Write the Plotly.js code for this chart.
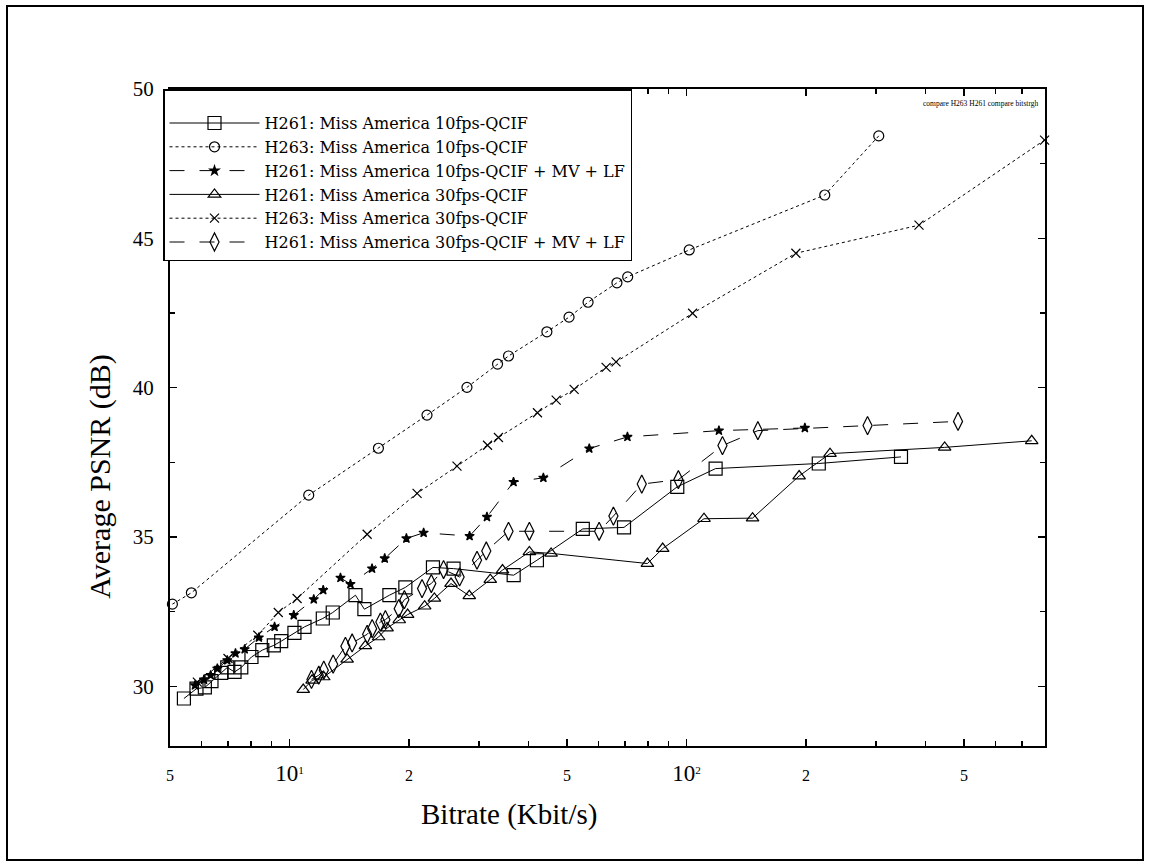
<!DOCTYPE html>
<html>
<head>
<meta charset="utf-8">
<script src="https://cdn.plot.ly/plotly-3.0.1.min.js"></script>
<style>
  html, body { margin: 0; padding: 0; background: #fff; }
  #wrap { position: relative; width: 1151px; height: 866px; }
  #chart { position: absolute; left: 0; top: 0; width: 1151px; height: 866px; }
  #frame { position: absolute; left: 6px; top: 5px; width: 1134px; height: 852px; border: 2px solid #000; pointer-events: none; }
</style>
</head>
<body>
<div id="wrap">
  <div id="chart"></div>
  <div id="frame"></div>
</div>
<script>
// ---- data ----
const seriesNames = [
  "H261: Miss America 10fps-QCIF",
  "H263: Miss America 10fps-QCIF",
  "H261: Miss America 10fps-QCIF + MV + LF",
  "H261: Miss America 30fps-QCIF",
  "H263: Miss America 30fps-QCIF",
  "H261: Miss America 30fps-QCIF + MV + LF"
];

const h261_10_x = [5.42, 5.83, 6.12, 6.36, 6.73, 6.97, 7.27, 7.56, 8.02, 8.54, 9.13, 9.53, 10.29, 10.91, 12.13, 12.85, 14.66, 15.44, 17.85, 19.58, 22.98, 25.9, 36.7, 42.0, 54.8, 69.6, 94.8, 118.4, 215.4, 347];
const h261_10_y = [29.59, 29.92, 29.96, 30.17, 30.45, 30.63, 30.48, 30.63, 30.98, 31.21, 31.37, 31.51, 31.79, 31.99, 32.27, 32.47, 33.05, 32.58, 33.05, 33.31, 33.98, 33.94, 33.72, 34.22, 35.27, 35.32, 36.68, 37.29, 37.46, 37.68];

const h263_10_x = [5.07, 5.66, 11.18, 16.75, 22.2, 27.99, 33.42, 35.62, 44.5, 50.6, 56.5, 66.8, 71.1, 101.6, 223, 305];
const h263_10_y = [32.75, 33.13, 36.40, 37.97, 39.08, 40.01, 40.79, 41.06, 41.87, 42.36, 42.86, 43.51, 43.71, 44.61, 46.45, 48.43];

const h261mv_10_x = [5.78, 6.09, 6.33, 6.58, 6.97, 7.31, 7.71, 8.37, 9.17, 10.25, 11.51, 12.16, 13.44, 14.24, 16.14, 17.37, 19.7, 21.77, 28.42, 31.43, 36.67, 43.6, 56.9, 71.0, 120.7, 198.7];
const h261mv_10_y = [30.03, 30.22, 30.37, 30.59, 30.87, 31.10, 31.24, 31.63, 31.99, 32.38, 32.91, 33.22, 33.63, 33.42, 33.94, 34.28, 34.95, 35.14, 35.03, 35.67, 36.84, 36.98, 37.96, 38.35, 38.56, 38.65];

const h261_30_x = [10.83, 11.40, 12.2, 13.97, 15.53, 16.77, 17.61, 18.9, 19.84, 21.9, 23.17, 25.52, 28.37, 32.04, 34.4, 40.2, 45.6, 79.7, 87.1, 110.7, 146.7, 192.2, 229.9, 447, 740.6];
const h261_30_y = [29.89, 30.20, 30.31, 30.90, 31.35, 31.65, 31.95, 32.22, 32.40, 32.68, 32.94, 33.44, 33.03, 33.57, 33.89, 34.50, 34.45, 34.11, 34.61, 35.61, 35.63, 37.04, 37.79, 38.00, 38.22];

const h263_30_x = [5.86, 7.0, 8.32, 9.37, 10.45, 15.69, 20.96, 26.42, 31.54, 33.6, 42.13, 46.96, 52.12, 62.73, 66.46, 103.6, 188.6, 385.2, 798];
const h263_30_y = [30.14, 30.93, 31.71, 32.47, 32.94, 35.09, 36.46, 37.37, 38.07, 38.33, 39.16, 39.58, 39.94, 40.68, 40.86, 42.49, 44.50, 45.44, 48.29];

const h261mv_30_x = [11.36, 11.85, 12.2, 12.88, 13.83, 14.38, 15.69, 16.15, 16.94, 17.44, 18.84, 19.47, 21.57, 22.76, 24.44, 26.82, 29.67, 31.31, 35.62, 40.2, 60.25, 65.45, 77.15, 95.4, 123.2, 151.3, 285.8, 483.1];
const h261mv_30_y = [30.23, 30.37, 30.54, 30.74, 31.34, 31.45, 31.74, 31.93, 32.15, 32.23, 32.60, 32.90, 33.27, 33.44, 33.91, 33.66, 34.22, 34.53, 35.19, 35.19, 35.19, 35.70, 36.77, 36.92, 38.06, 38.56, 38.73, 38.87];

const xTickVals = [5, 10, 20, 50, 100, 200, 500];
const xTickText = ["5", "<span style=\"font-size:23px\">10</span><sup>1</sup>", "2", "5", "<span style=\"font-size:23px\">10</span><sup>2</sup>", "2", "5"];
const xMinorVals = [6, 7, 8, 9, 30, 40, 60, 70, 80, 90, 300, 400, 600, 700, 800];
const yTickVals = [30, 35, 40, 45, 50];
const yTickText = ["30", "35", "40", "45", "50"];
const yMinorVals = [32.5, 37.5, 42.5, 47.5];

// ---- styling ----
const serif = "DejaVu Serif, Liberation Serif, serif";
const times = "Liberation Serif, Times New Roman, serif";

function tr(name, x, y, symbol, size, dash) {
  return {
    type: "scatter", mode: "lines+markers", name: name, x: x, y: y,
    line: { color: "#000", width: 1, dash: dash },
    marker: { symbol: symbol, size: size, color: "#000", line: { color: "#000", width: 1.2 } },
    cliponaxis: false
  };
}

const data = [
  tr(seriesNames[0], h261_10_x, h261_10_y, "square-open", 13, "solid"),
  tr(seriesNames[1], h263_10_x, h263_10_y, "circle-open", 10, "dot"),
  tr(seriesNames[2], h261mv_10_x, h261mv_10_y, "star", 7, "longdash"),
  tr(seriesNames[3], h261_30_x, h261_30_y, "triangle-up-open", 11, "solid"),
  tr(seriesNames[4], h263_30_x, h263_30_y, "x-thin-open", 9, "dot"),
  tr(seriesNames[5], h261mv_30_x, h261mv_30_y, "diamond-tall-open", 13, "longdash")
];

const layout = {
  width: 1151, height: 866,
  margin: { l: 170, r: 106, t: 89, b: 120 },
  paper_bgcolor: "#fff", plot_bgcolor: "#fff",
  showlegend: true,
  legend: {
    x: -0.008, y: 1, xanchor: "left", yanchor: "top",
    bgcolor: "#fff", bordercolor: "#000", borderwidth: 1.5,
    font: { family: serif, size: 16, color: "#000" },
    itemwidth: 90,
    title: { text: "\u00a0", font: { family: serif, size: 12, color: "#000" } }
  },
  xaxis: {
    type: "log",
    range: [Math.log10(5), Math.log10(800)],
    showline: true, linecolor: "#000", linewidth: 2, mirror: "ticks",
    ticks: "inside", ticklen: 7, tickwidth: 1.5, tickcolor: "#000",
    tickmode: "array", tickvals: xTickVals, ticktext: xTickText,
    tickfont: { family: times, size: 16, color: "#000" },
    ticklabelstandoff: 14,
    minor: { tickmode: "array", tickvals: xMinorVals, ticks: "inside", ticklen: 5, tickwidth: 1.5, tickcolor: "#000", showgrid: false },
    showgrid: false, zeroline: false
  },
  yaxis: {
    range: [28, 50],
    showline: true, linecolor: "#000", linewidth: 2, mirror: "ticks",
    ticks: "inside", ticklen: 7, tickwidth: 1.5, tickcolor: "#000",
    tickmode: "array", tickvals: yTickVals, ticktext: yTickText,
    tickfont: { family: times, size: 21, color: "#000" },
    ticklabelstandoff: 10,
    minor: { tickmode: "array", tickvals: yMinorVals, ticks: "inside", ticklen: 5, tickwidth: 1.5, tickcolor: "#000", showgrid: false },
    showgrid: false, zeroline: false
  },
  annotations: [
    { text: "Bitrate (Kbit/s)", xref: "paper", yref: "paper", x: 0.387, y: -0.105, xanchor: "center", yanchor: "middle",
      showarrow: false, font: { family: times, size: 29, color: "#000" } },
    { text: "Average PSNR (dB)", xref: "paper", yref: "paper", x: -0.08, y: 0.41, xanchor: "center", yanchor: "middle",
      textangle: -90, showarrow: false, font: { family: times, size: 30, color: "#000" } },
    { text: "compare H263 H261 compare bitstrgh", xref: "paper", yref: "paper", x: 0.995, y: 0.978, xanchor: "right", yanchor: "middle",
      showarrow: false, font: { family: times, size: 7.5, color: "#000" } }
  ]
};

Plotly.newPlot("chart", data, layout, { displayModeBar: false, staticPlot: true });
</script>
</body>
</html>
